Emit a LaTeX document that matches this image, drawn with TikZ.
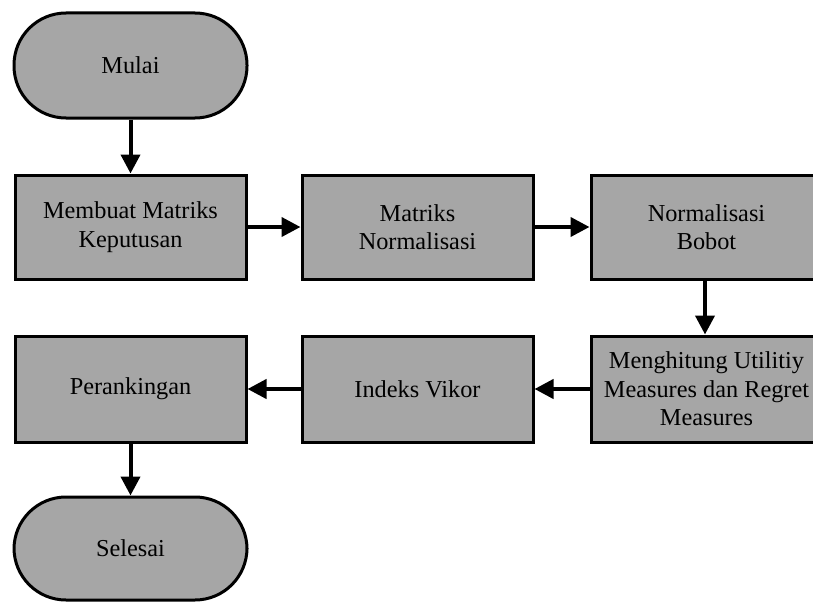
\documentclass[tikz,border=0pt]{standalone}
\usepackage{fontspec}
\setmainfont{Liberation Serif}
\usetikzlibrary{arrows.meta}
\definecolor{boxgray}{HTML}{A6A6A6}
\begin{document}
\begin{tikzpicture}[x=1pt,y=-1pt,
  base/.style={draw=black, line width=3pt, fill=boxgray, align=center,
    font=\fontsize{24.3}{28.5}\selectfont, inner sep=0pt},
  procbox/.style={base, rectangle, minimum width=231pt, minimum height=104pt},
  termbox/.style={base, rectangle, rounded corners=52pt, minimum width=233pt, minimum height=105pt},
  flow/.style={line width=4pt, -{Triangle[length=19pt,width=19pt]}}]
\useasboundingbox (0,0) rectangle (813,602);
\node[termbox] (mulai) at (130.5,65.5) {Mulai};
\node[procbox] (b1) at (130.5,227) {Membuat Matriks\\Keputusan};
\node[procbox] (b2) at (417.5,227) {Matriks\\Normalisasi};
\node[procbox] (b3) at (706.5,227) {Normalisasi\\Bobot};
\node[procbox, minimum height=106pt] (b4) at (706.5,389) {Menghitung Utilitiy\\Measures dan Regret\\Measures};
\node[procbox, minimum height=106pt] (b5) at (417.5,389) {Indeks Vikor};
\node[procbox, minimum height=106pt] (b6) at (130.5,389) {Perankingan};
\node[termbox, minimum height=103pt] (selesai) at (130.5,548.5) {Selesai};
\draw[flow] (mulai) -- (b1);
\draw[flow] (b1) -- (b2);
\draw[flow] (b2) -- (b3);
\draw[flow] (b3.south -| 705,0) -- (b4.north -| 705,0);
\draw[flow] (b4) -- (b5);
\draw[flow] (b5) -- (b6);
\draw[flow] (b6) -- (selesai);
\end{tikzpicture}
\end{document}
